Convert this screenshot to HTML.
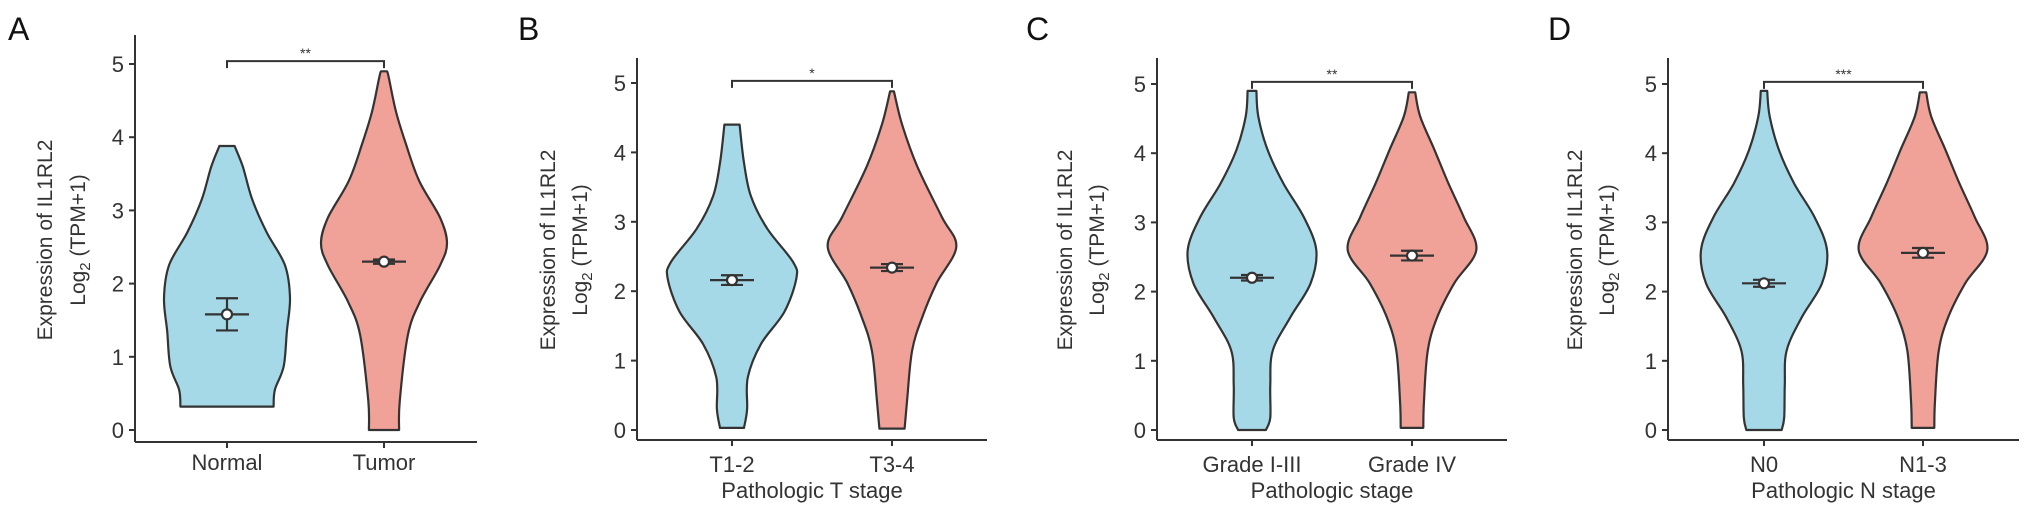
<!DOCTYPE html>
<html><head><meta charset="utf-8">
<style>
html,body{margin:0;padding:0;background:#fff;}
svg{display:block;font-family:"Liberation Sans",Arial,sans-serif;}
</style></head>
<body>
<svg id="fig" width="2032" height="530" viewBox="0 0 2032 530" xmlns="http://www.w3.org/2000/svg"></svg>
<script>
// ---- data ----
const panelLetters = ["A","B","C","D"];
const categoriesA = ["Normal","Tumor"];
const categoriesB = ["T1-2","T3-4"];
const categoriesC = ["Grade I-III","Grade IV"];
const categoriesD = ["N0","N1-3"];
const xTitles = ["", "Pathologic T stage", "Pathologic stage", "Pathologic N stage"];
const sigLabels = ["**","*","**","***"];
const yTicks = [0,1,2,3,4,5];
// violin density profiles: y values (log2 TPM+1) and relative half-widths
const normalY = [0.32,0.55,0.87,1.35,1.8,2.25,2.7,3.15,3.6,3.88];
const normalD = [0.74,0.76,0.9,0.95,1.0,0.92,0.63,0.4,0.25,0.12];
const tumorY = [0,0.4,1.3,1.75,2.25,2.55,2.9,3.4,3.9,4.35,4.8,4.9];
const tumorD = [0.24,0.25,0.38,0.57,0.89,1.0,0.89,0.56,0.35,0.19,0.08,0.05];
const t12Y = [0.03,0.3,0.76,1.24,1.7,2.18,2.42,2.9,3.37,3.85,4.4];
const t12D = [0.19,0.24,0.25,0.46,0.83,1.02,0.97,0.56,0.3,0.19,0.12];
const t34Y = [0.02,0.43,1.15,1.65,2.12,2.64,3.07,3.8,4.4,4.88];
const t34D = [0.2,0.24,0.32,0.49,0.71,1.02,0.79,0.4,0.16,0.03];
const g13Y = [0,0.18,0.66,1.15,1.63,2.12,2.6,3.08,3.56,4.04,4.53,4.9];
const g13D = [0.22,0.29,0.29,0.33,0.61,0.93,1.02,0.82,0.5,0.25,0.1,0.07];
const g4Y = [0.03,0.42,1.15,1.63,2.12,2.6,3.08,3.56,4.04,4.53,4.88];
const g4D = [0.18,0.19,0.25,0.4,0.67,1.02,0.82,0.58,0.36,0.13,0.05];
const n0Y = [0,0.18,0.66,1.15,1.63,2.12,2.6,3.08,3.56,4.04,4.53,4.9];
const n0D = [0.28,0.32,0.33,0.36,0.6,0.92,1.0,0.8,0.48,0.24,0.09,0.05];
const n13Y = [0.03,0.42,1.15,1.63,2.12,2.6,3.08,3.56,4.04,4.53,4.88];
const n13D = [0.18,0.19,0.25,0.4,0.67,1.02,0.82,0.58,0.36,0.13,0.05];
// means and standard errors
const meansA = [1.58,2.30], errsA = [0.22,0.03];
const meansB = [2.16,2.34], errsB = [0.07,0.05];
const meansC = [2.20,2.52], errsC = [0.04,0.07];
const meansD = [2.12,2.56], errsD = [0.05,0.07];

// ---- layout ----
const NS="http://www.w3.org/2000/svg";
const svg=document.getElementById('fig');
function mk(tag,attrs,parent){const e=document.createElementNS(NS,tag);for(const k in attrs)e.setAttribute(k,attrs[k]);(parent||svg).appendChild(e);return e;}
const panels=[
 {letter:panelLetters[0],lx:8,ly:40,ax:135,axTop:35,axRight:477,xAxisY:442,y0:430,unit:73.2,cx:[227,384],cats:categoriesA,title:xTitles[0],sig:sigLabels[0],sigY:5.04,t1x:45,t2x:78,vy:[normalY,tumorY],vd:[normalD,tumorD],m:meansA,e:errsA,catY:470},
 {letter:panelLetters[1],lx:518,ly:40,ax:637,axTop:58,axRight:987,xAxisY:440,y0:430,unit:69.4,cx:[732,892],cats:categoriesB,title:xTitles[1],sig:sigLabels[1],sigY:5.03,t1x:548,t2x:580,vy:[t12Y,t34Y],vd:[t12D,t34D],m:meansB,e:errsB,catY:472},
 {letter:panelLetters[2],lx:1026,ly:40,ax:1157,axTop:58,axRight:1507,xAxisY:440,y0:430,unit:69.2,cx:[1252,1412],cats:categoriesC,title:xTitles[2],sig:sigLabels[2],sigY:5.03,t1x:1065,t2x:1097,vy:[g13Y,g4Y],vd:[g13D,g4D],m:meansC,e:errsC,catY:472},
 {letter:panelLetters[3],lx:1548,ly:40,ax:1668,axTop:58,axRight:2019,xAxisY:440,y0:430,unit:69.2,cx:[1764,1923],cats:categoriesD,title:xTitles[3],sig:sigLabels[3],sigY:5.03,t1x:1575,t2x:1607,vy:[n0Y,n13Y],vd:[n0D,n13D],m:meansD,e:errsD,catY:472}
];
const fills=["#a6d9e8","#f0a198"];
const HW=63, ink="#333";

function smooth(pts){ // catmull-rom
  let d="M"+pts[0][0].toFixed(1)+","+pts[0][1].toFixed(1);
  for(let i=0;i<pts.length-1;i++){
    const p0=pts[Math.max(0,i-1)],p1=pts[i],p2=pts[i+1],p3=pts[Math.min(pts.length-1,i+2)];
    const c1=[p1[0]+(p2[0]-p0[0])/6,p1[1]+(p2[1]-p0[1])/6];
    const c2=[p2[0]-(p3[0]-p1[0])/6,p2[1]-(p3[1]-p1[1])/6];
    d+=" C"+c1[0].toFixed(1)+","+c1[1].toFixed(1)+" "+c2[0].toFixed(1)+","+c2[1].toFixed(1)+" "+p2[0].toFixed(1)+","+p2[1].toFixed(1);
  }
  return d;
}

panels.forEach((p,pi)=>{
  const g=mk('g',{});
  
  
  const yS=v=>p.y0-v*p.unit;
  const L=mk('text',{x:p.lx,y:p.ly,'font-size':32,fill:'#111'},g);L.textContent=p.letter;
  
  
  for(let k=0;k<2;k++){
    const ys=p.vy[k],ds=p.vd[k],cx=p.cx[k];
    const right=ys.map((v,i)=>[cx+ds[i]*HW,yS(v)]).reverse();
    const left=ys.map((v,i)=>[cx-ds[i]*HW,yS(v)]);
    let d=smooth(right);
    const lp=smooth(left).replace(/^M/,"L");
    d+=" "+lp+" Z";
    const v=mk('path',{d:d,fill:fills[k],stroke:ink,'stroke-width':2.2,'stroke-linejoin':'round'},g);
    
    
    const my=yS(p.m[k]),eu=yS(p.m[k]+p.e[k]),el=yS(p.m[k]-p.e[k]);
    const eg=mk('g',{stroke:ink,'stroke-width':2.2},g);
    
    
    mk('line',{x1:cx,x2:cx,y1:eu,y2:el},eg);
    mk('line',{x1:cx-11,x2:cx+11,y1:eu,y2:eu},eg);
    mk('line',{x1:cx-11,x2:cx+11,y1:el,y2:el},eg);
    mk('line',{x1:cx-22,x2:cx+22,y1:my,y2:my},eg);
    mk('circle',{cx:cx,cy:my,r:5,fill:'#fff'},eg);
  }
  const ax=mk('g',{stroke:ink,'stroke-width':2},g);
  
  
  mk('line',{x1:p.ax,x2:p.ax,y1:p.axTop,y2:p.xAxisY},ax);
  mk('line',{x1:p.ax,x2:p.axRight,y1:p.xAxisY,y2:p.xAxisY},ax);
  yTicks.forEach(t=>{
    mk('line',{x1:p.ax-6,x2:p.ax,y1:yS(t),y2:yS(t)},ax);
    const tx=mk('text',{x:p.ax-11,y:yS(t)+8,'font-size':22,'text-anchor':'end',fill:'#333'},g);
    tx.textContent=t;
    
    
  });
  p.cats.forEach((c,k)=>{
    mk('line',{x1:p.cx[k],x2:p.cx[k],y1:p.xAxisY,y2:p.xAxisY+6},ax);
    const tx=mk('text',{x:p.cx[k],y:p.catY,'font-size':22,'text-anchor':'middle',fill:'#333'},g);
    tx.textContent=c;
    
    
  });
  if(p.title){
    const tt=mk('text',{x:(p.cx[0]+p.cx[1])/2,y:498,'font-size':22,'text-anchor':'middle',fill:'#333'},g);
    tt.textContent=p.title;
    
    
  }
  const yt1=mk('text',{x:0,y:0,'font-size':21,'text-anchor':'middle',fill:'#333',transform:`translate(${p.t1x+7},${pi===0?240:250}) rotate(-90)`},g);
  yt1.textContent="Expression of IL1RL2";
  
  
  const yt2=mk('text',{x:0,y:0,'font-size':21,'text-anchor':'middle',fill:'#333',transform:`translate(${p.t2x+7},${pi===0?240:250}) rotate(-90)`},g);
  yt2.innerHTML='Log<tspan font-size="15" dy="5">2</tspan><tspan dy="-5"> (TPM+1)</tspan>';
  
  
  const by=yS(p.sigY);
  const br=mk('path',{d:`M${p.cx[0]},${by+7} V${by} H${p.cx[1]} V${by+7}`,fill:'none',stroke:ink,'stroke-width':2},g);
  
  
  const st=mk('text',{x:(p.cx[0]+p.cx[1])/2,y:by-3,'font-size':14,'text-anchor':'middle',fill:'#333'},g);
  st.textContent=p.sig;
  
  
});
</script>
</body></html>
